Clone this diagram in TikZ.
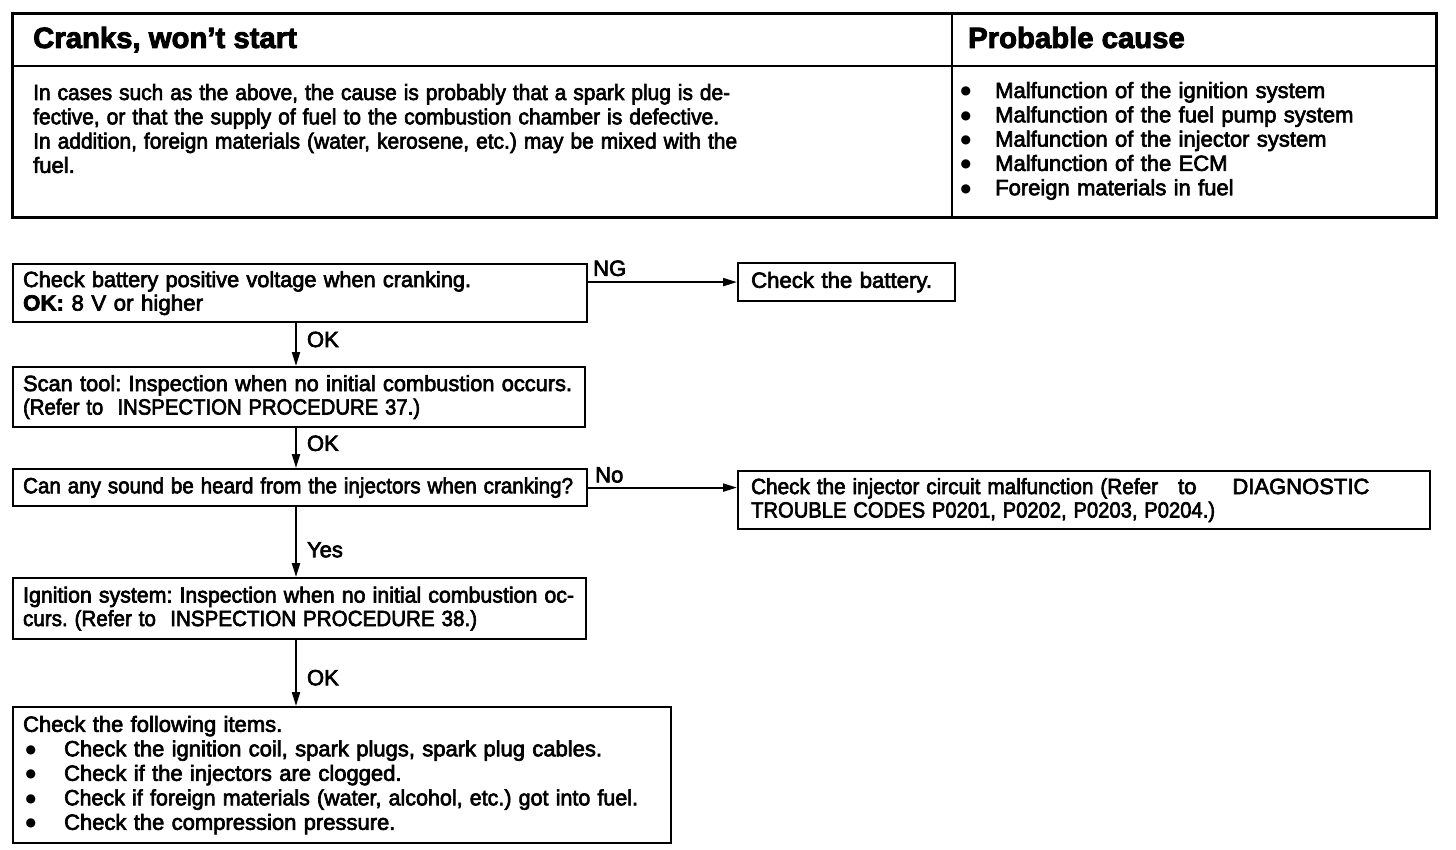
\documentclass[tikz,border=0pt]{standalone}
\usepackage{fontspec}
\usepackage{graphicx}
\setmainfont{Liberation Sans}[FakeBold=3]
\newfontfamily\symf{DejaVu Sans}
\usetikzlibrary{arrows.meta}
\newcommand{\fw}[2]{\resizebox{#1pt}{\height}{#2}}
\newcommand{\titlef}{\fontsize{29.3}{34}\selectfont\bfseries}
\newcommand{\tablef}{\fontsize{22}{24.3}\selectfont\frenchspacing}
\newcommand{\bodyf}{\fontsize{22}{23.5}\selectfont\frenchspacing}
\newcommand{\bul}[2]{\leavevmode\hspace*{#1}\llap{\raisebox{3pt}{\symf\fontsize{12}{12}\selectfont ●}\hspace{#2}}}
\begin{document}
\begin{tikzpicture}[x=1pt,y=-1pt,
  box/.style={draw, line width=2.2pt, anchor=north west, inner xsep=10pt, inner ysep=0pt, align=left, font=\bodyf},
  arr/.style={line width=2pt, -{Triangle[length=14pt,width=8pt]}},
  lbl/.style={anchor=west, inner sep=0pt, xshift=10pt, font=\bodyf},
  cell/.style={anchor=base west, inner sep=0pt}]
\useasboundingbox (0,0) rectangle (1456,850);
% ---- table ----
\draw[line width=3pt] (12,14) rectangle (1436,218);
\draw[line width=2.5pt] (12,66) -- (1436,66);
\draw[line width=2.5pt] (952,14) -- (952,218);
\node[cell, font=\titlef] (t1) at (33,48) {Cranks, won’t start};
\node[cell, font=\titlef] (t2) at (968,48) {Probable cause};
\node[cell, text width=740pt, align=left, font=\tablef] (desc) at (33,100)
 {\fw{697}{In cases such as the above, the cause is probably that a spark plug is de-}\\
  \fw{686}{fective, or that the supply of fuel to the combustion chamber is defective.}\\
  \fw{704}{In addition, foreign materials (water, kerosene, etc.) may be mixed with the}\\
  fuel.};
\node[cell, text width=430pt, align=left, font=\tablef] (causes) at (995,98)
 {\bul{0pt}{24pt}Malfunction of the ignition system\\
  \bul{0pt}{24pt}Malfunction of the fuel pump system\\
  \bul{0pt}{24pt}Malfunction of the injector system\\
  \bul{0pt}{24pt}Malfunction of the ECM\\
  \bul{0pt}{24pt}Foreign materials in fuel};
% ---- flowchart ----
\node[box, minimum width=574pt, minimum height=58pt, text width=554pt] (b1) at (12,263)
 {\fw{448}{Check battery positive voltage when cranking.}\\
  \fw{180}{\textbf{OK:} 8 V or higher}};
\node[box, inner xsep=13pt, minimum height=38pt, text width=191pt] (bat) at (737,262)
 {\fw{181}{Check the battery.}};
\node[box, minimum width=572pt, minimum height=60pt, text width=552pt] (b2) at (12,366)
 {\fw{549}{Scan tool: Inspection when no initial combustion occurs.}\\
  \fw{397}{(Refer to\hspace{8pt} INSPECTION PROCEDURE 37.)}};
\node[box, minimum height=37pt, text width=554pt] (b3) at (12,468)
 {\fw{550}{Can any sound be heard from the injectors when cranking?}};
\node[box, inner xsep=13pt, minimum height=58pt, text width=666pt] (b4) at (737,470)
 {\fw{407}{Check the injector circuit malfunction (Refer}\hspace{20pt}to\hspace{36pt}DIAGNOSTIC\\
  \fw{464}{TROUBLE CODES P0201, P0202, P0203, P0204.)}};
\node[box, minimum height=61pt, text width=553pt] (b5) at (12,577)
 {\fw{551}{Ignition system: Inspection when no initial combustion oc-}\\
  \fw{454}{curs. (Refer to\hspace{8pt} INSPECTION PROCEDURE 38.)}};
\node[box, minimum height=136pt, text width=638pt, font=\fontsize{22}{24.5}\selectfont\frenchspacing] (b6) at (12,706)
 {Check the following items.\\
  \bul{41pt}{28pt}Check the ignition coil, spark plugs, spark plug cables.\\
  \bul{41pt}{28pt}Check if the injectors are clogged.\\
  \bul{41pt}{28pt}\fw{574}{Check if foreign materials (water, alcohol, etc.) got into fuel.}\\
  \bul{41pt}{28pt}Check the compression pressure.};
% ---- connectors ----
\draw[arr] (b1.east |- bat.west) -- (bat.west)
  node[pos=0, anchor=south west, inner sep=0pt, xshift=4pt, yshift=5pt, font=\bodyf] (ng) {NG};
\draw[arr] ([xshift=284pt]b1.south west) -- ([xshift=284pt]b2.north west) node[lbl, pos=0.38] (ok1) {OK};
\draw[arr] ([xshift=284pt]b2.south west) -- ([xshift=284pt]b3.north west) node[lbl, pos=0.38] (ok2) {OK};
\draw[arr] (b3.east) -- (b4.west |- b3.east)
  node[pos=0, anchor=south west, inner sep=0pt, xshift=6pt, yshift=4pt, font=\bodyf] (no) {No};
\draw[arr] ([xshift=284pt]b3.south west) -- ([xshift=284pt]b5.north west) node[lbl, pos=0.61] (yes) {Yes};
\draw[arr] ([xshift=284pt]b5.south west) -- ([xshift=284pt]b6.north west) node[lbl, pos=0.57] (ok3) {OK};
\end{tikzpicture}
\end{document}
